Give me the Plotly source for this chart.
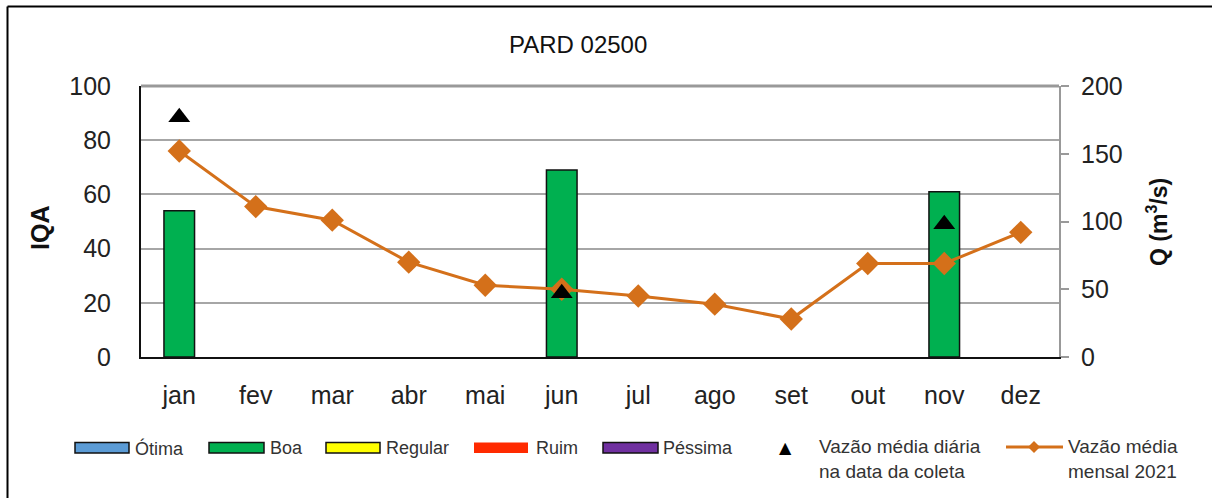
import plotly.graph_objects as go

months = ["jan", "fev", "mar", "abr", "mai", "jun", "jul", "ago", "set", "out", "nov", "dez"]
iqa_months = ["jan", "jun", "nov"]
iqa_values = [54, 69, 61]
vazao_mensal = [152, 111, 101, 70, 53, 50, 45, 39, 28, 69, 69, 92]
vazao_diaria_months = ["jan", "jun", "nov"]
vazao_diaria = [177, 47, 98]

title_text = "PARD 02500"
legend_bars = [("Ótima", "#5B9BD5", True), ("Boa", "#00B050", True), ("Regular", "#FFFF00", True),
               ("Ruim", "#FF2A00", False), ("Péssima", "#7030A0", True)]

W, H = 1212, 498
L, R, T, B = 141, 1059, 86, 357
FONT = "Liberation Sans, Arial, sans-serif"


def px(x):
    return (x - L) / (R - L)


def py(y):
    return (B - y) / (B - T)


fig = go.Figure()
fig.add_trace(go.Bar(x=iqa_months, y=iqa_values, name="Boa", width=0.4,
                     marker=dict(color="#00B050", line=dict(color="#111", width=1.5)),
                     yaxis="y", showlegend=False))
fig.add_trace(go.Scatter(x=months, y=vazao_mensal, name="Vazão média mensal 2021", mode="lines+markers",
                         line=dict(color="#D4701A", width=3),
                         marker=dict(symbol="diamond", size=18, color="#D4701A"),
                         yaxis="y2", showlegend=False))
fig.add_trace(go.Scatter(x=vazao_diaria_months, y=vazao_diaria, name="Vazão média diária na data da coleta",
                         mode="markers", marker=dict(symbol="triangle-up", size=19, color="black"),
                         yaxis="y2", showlegend=False))

shapes = []
annotations = []
# outer frame (left and top)
shapes.append(dict(type="line", xref="paper", yref="paper", x0=px(7.5), x1=px(W + 5), y0=py(6.5), y1=py(6.5),
                   line=dict(color="black", width=2)))
shapes.append(dict(type="line", xref="paper", yref="paper", x0=px(7.5), x1=px(7.5), y0=py(6.5), y1=py(H + 5),
                   line=dict(color="black", width=2)))
# top border of plot
shapes.append(dict(type="line", xref="paper", yref="paper", x0=0, x1=1, y0=1, y1=1,
                   line=dict(color="#999999", width=3)))

# legend
sw_x = [(75, 129, 133), (209, 264, 268), (326, 380, 384), (474, 528, 534), (603, 658, 661)]
for (name, col, border), (x0, x1, tx) in zip(legend_bars, sw_x):
    shapes.append(dict(type="rect", xref="paper", yref="paper", x0=px(x0), x1=px(x1), y0=py(453), y1=py(442.5),
                       fillcolor=col, line=dict(color="#111" if border else col, width=1.5 if border else 0)))
    annotations.append(dict(text=name, xref="paper", yref="paper", x=px(tx), y=py(448), xanchor="left",
                            yanchor="middle", showarrow=False, font=dict(size=18, color="#333", family=FONT)))
annotations.append(dict(text="▲", xref="paper", yref="paper", x=px(785.5), y=py(447), xanchor="center",
                        yanchor="middle", showarrow=False, font=dict(size=16, color="black", family="DejaVu Sans")))
annotations.append(dict(text="Vazão média diária<br>na data da coleta", xref="paper", yref="paper", x=px(817),
                        y=py(459), xanchor="left", yanchor="middle", align="left", showarrow=False,
                        font=dict(size=19, color="#333", family=FONT)))
shapes.append(dict(type="line", xref="paper", yref="paper", x0=px(1006), x1=px(1063), y0=py(447), y1=py(447),
                   line=dict(color="#D4701A", width=3)))
shapes.append(dict(type="path", xref="paper", yref="paper",
                   path=f"M {px(1028)},{py(447)} L {px(1034)},{py(441)} L {px(1040)},{py(447)} L {px(1034)},{py(453)} Z",
                   fillcolor="#D4701A", line=dict(color="#D4701A", width=0)))
annotations.append(dict(text="Vazão média<br>mensal 2021", xref="paper", yref="paper", x=px(1066),
                        y=py(459), xanchor="left", yanchor="middle", align="left", showarrow=False,
                        font=dict(size=19, color="#333", family=FONT)))

# title and axis titles
annotations.append(dict(text=title_text, xref="paper", yref="paper", x=px(578), y=py(44), xanchor="center",
                        yanchor="middle", showarrow=False, font=dict(size=24, color="#111", family=FONT)))
annotations.append(dict(text="<b>IQA</b>", xref="paper", yref="paper", x=px(40), y=py(228), xanchor="center",
                        yanchor="middle", textangle=-90, showarrow=False, font=dict(size=25, color="#111", family=FONT)))
annotations.append(dict(text="<b>Q (m<sup>3</sup>/s)</b>", xref="paper", yref="paper", x=px(1157), y=py(222),
                        xanchor="center", yanchor="middle", textangle=-90, showarrow=False,
                        font=dict(size=23, color="#111", family=FONT)))

fig.update_layout(
    width=W, height=H,
    margin=dict(l=L, r=W - R, t=T, b=H - B, pad=0),
    paper_bgcolor="white", plot_bgcolor="white",
    font=dict(family=FONT, color="#222"),
    showlegend=False,
    xaxis=dict(type="category", categoryorder="array", categoryarray=months, tickfont=dict(size=25, color="#222"),
               showline=True, linecolor="#111", linewidth=2, ticks="outside", ticklen=15,
               tickcolor="rgba(0,0,0,0)", showgrid=False, zeroline=False, range=[-0.5, 11.5]),
    yaxis=dict(range=[0, 100], tickvals=[0, 20, 40, 60, 80, 100], tickfont=dict(size=25, color="#222"),
               showline=True, linecolor="#111", linewidth=2, showgrid=True, gridcolor="#A6A6A6", gridwidth=2,
               ticks="outside", ticklen=23, tickcolor="rgba(0,0,0,0)", zeroline=False),
    yaxis2=dict(range=[0, 200], tickvals=[0, 50, 100, 150, 200], overlaying="y", side="right",
                tickfont=dict(size=25, color="#222"), showline=True, linecolor="#999999", linewidth=2,
                showgrid=False, ticks="outside", ticklen=8, tickcolor="#999999", tickwidth=2,
                ticklabelstandoff=7, zeroline=False),
    shapes=shapes,
    annotations=annotations,
)

fig.write_html("out.html", config={"displayModeBar": False},
               post_script="document.body.style.margin='0';document.body.style.padding='0';")
